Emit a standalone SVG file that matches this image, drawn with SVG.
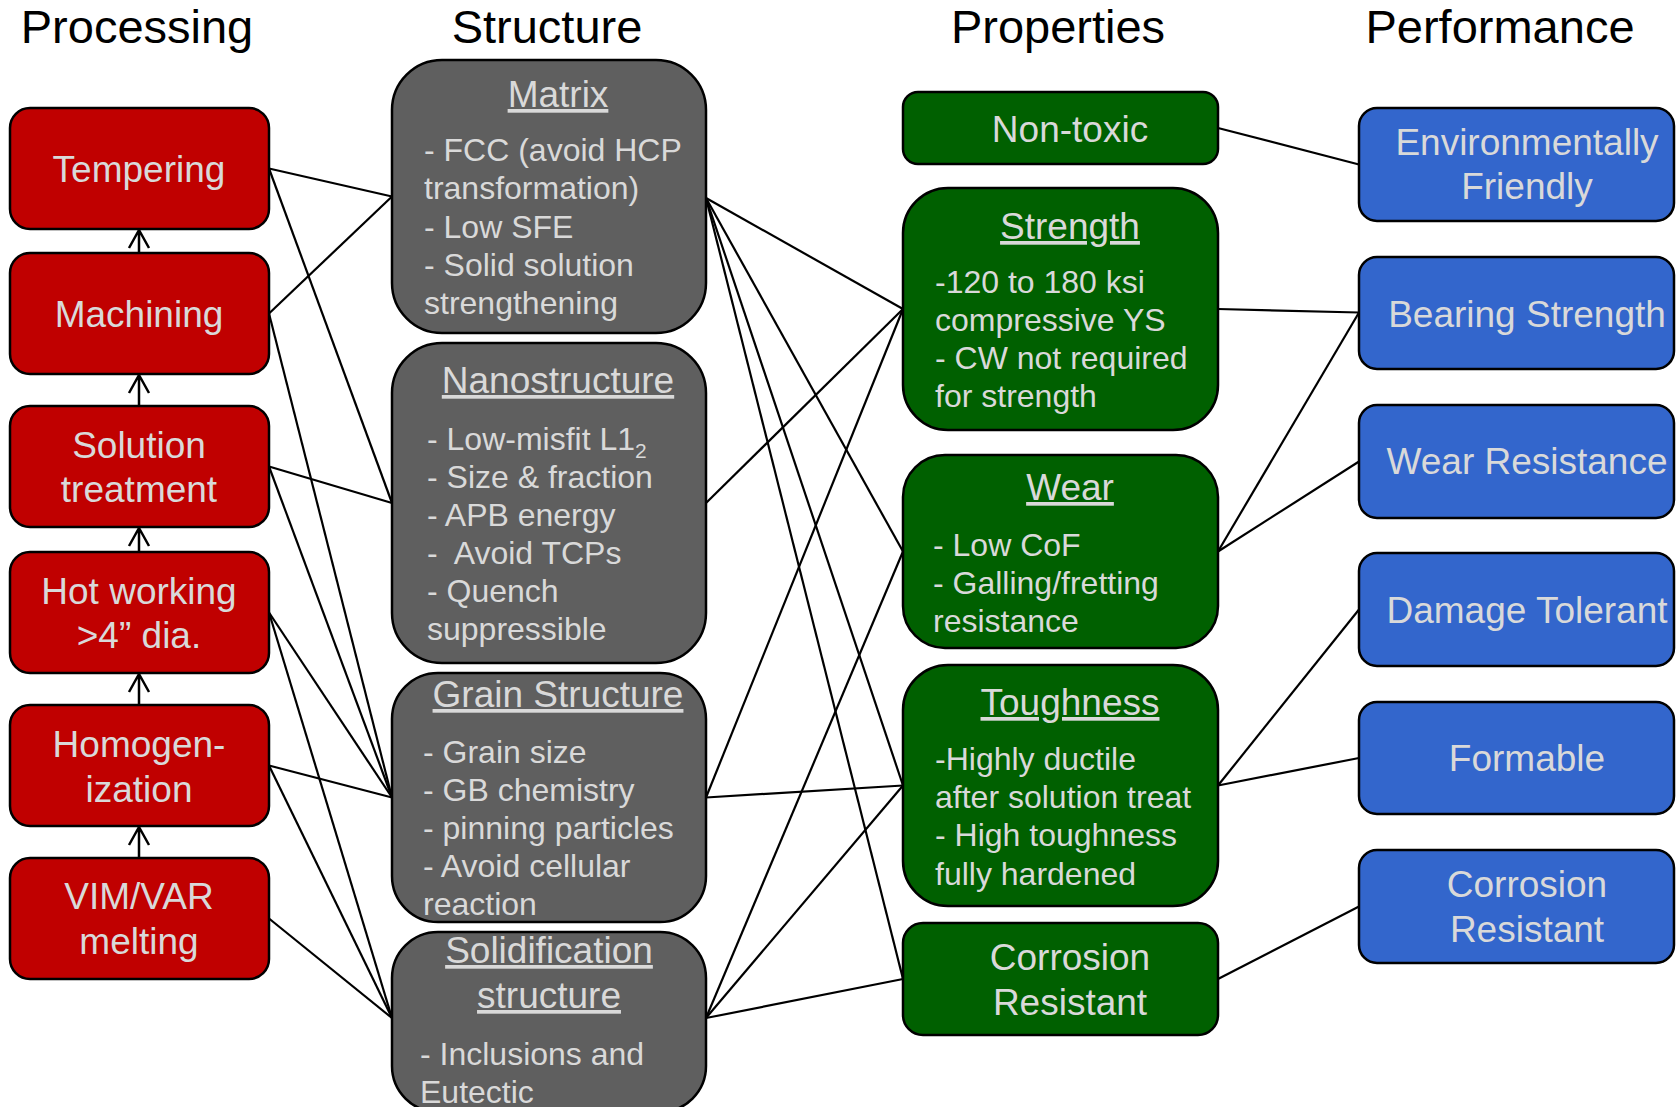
<svg xmlns="http://www.w3.org/2000/svg" width="1680" height="1107" viewBox="0 0 1680 1107">
  <style>
    text { font-family: "Liberation Sans", Arial, sans-serif; }
    .hdr { font-size: 47px; fill: #000; text-anchor: middle; }
    .lbl { font-size: 37px; fill: #d9d9d9; text-anchor: middle; }
    .ttl { font-size: 37px; fill: #d9d9d9; text-anchor: middle; text-decoration: underline; }
    .body { font-size: 32px; fill: #d9d9d9; }
    .proc { fill: #c00000; stroke: #000; stroke-width: 2.5; }
    .struct { fill: #5f5f5f; stroke: #000; stroke-width: 2.5; }
    .prop { fill: #006000; stroke: #000; stroke-width: 2.5; }
    .perf { fill: #3366cc; stroke: #000; stroke-width: 2.5; }
    .link { stroke: #000; stroke-width: 2.2; fill: none; }
    .flow { stroke: #000; stroke-width: 2.5; fill: none; }
  </style>
  <rect width="1680" height="1107" fill="#fff"/>

  <!-- column headings -->
  <g id="headings">
    <text class="hdr" x="137" y="43">Processing</text>
    <text class="hdr" x="547" y="43">Structure</text>
    <text class="hdr" x="1058" y="43">Properties</text>
    <text class="hdr" x="1500" y="43">Performance</text>
  </g>

  <!-- links between columns -->
  <g id="connectors">
    <!-- processing to structure -->
    <line class="link" x1="269" y1="168.5" x2="392" y2="196.5"/>
    <line class="link" x1="269" y1="168.5" x2="392" y2="503"/>
    <line class="link" x1="269" y1="313.5" x2="392" y2="196.5"/>
    <line class="link" x1="269" y1="313.5" x2="392" y2="797.5"/>
    <line class="link" x1="269" y1="466.5" x2="392" y2="503"/>
    <line class="link" x1="269" y1="466.5" x2="392" y2="797.5"/>
    <line class="link" x1="269" y1="612.5" x2="392" y2="797.5"/>
    <line class="link" x1="269" y1="612.5" x2="392" y2="1018"/>
    <line class="link" x1="269" y1="765.5" x2="392" y2="797.5"/>
    <line class="link" x1="269" y1="765.5" x2="392" y2="1018"/>
    <line class="link" x1="269" y1="918.5" x2="392" y2="1018"/>
    <!-- structure to properties -->
    <line class="link" x1="706" y1="198" x2="903" y2="309"/>
    <line class="link" x1="706" y1="198" x2="903" y2="551.5"/>
    <line class="link" x1="706" y1="198" x2="903" y2="785.5"/>
    <line class="link" x1="706" y1="198" x2="903" y2="979"/>
    <line class="link" x1="706" y1="503" x2="903" y2="309"/>
    <line class="link" x1="706" y1="797.5" x2="903" y2="309"/>
    <line class="link" x1="706" y1="797.5" x2="903" y2="785.5"/>
    <line class="link" x1="706" y1="1018" x2="903" y2="551.5"/>
    <line class="link" x1="706" y1="1018" x2="903" y2="785.5"/>
    <line class="link" x1="706" y1="1018" x2="903" y2="979"/>
    <!-- properties to performance -->
    <line class="link" x1="1218" y1="128" x2="1359" y2="164.5"/>
    <line class="link" x1="1218" y1="309" x2="1359" y2="312.5"/>
    <line class="link" x1="1218" y1="551.5" x2="1359" y2="312.5"/>
    <line class="link" x1="1218" y1="551.5" x2="1359" y2="461.5"/>
    <line class="link" x1="1218" y1="785.5" x2="1359" y2="609.5"/>
    <line class="link" x1="1218" y1="785.5" x2="1359" y2="758"/>
    <line class="link" x1="1218" y1="979" x2="1359" y2="906.5"/>
    <!-- processing sequence arrows -->
    <path class="flow" d="M139,253 V230 M129,248 L139,230 L149,248"/>
    <path class="flow" d="M139,406 V375 M129,393 L139,375 L149,393"/>
    <path class="flow" d="M139,552 V528 M129,546 L139,528 L149,546"/>
    <path class="flow" d="M139,705 V674 M129,692 L139,674 L149,692"/>
    <path class="flow" d="M139,858 V827 M129,845 L139,827 L149,845"/>
  </g>

  <!-- processing column -->
  <g id="tempering">
    <rect class="proc" x="10" y="108" width="259" height="121" rx="20"/>
    <text class="lbl" x="139" y="182">Tempering</text>
  </g>
  <g id="machining">
    <rect class="proc" x="10" y="253" width="259" height="121" rx="20"/>
    <text class="lbl" x="139" y="327">Machining</text>
  </g>
  <g id="solution-treatment">
    <rect class="proc" x="10" y="406" width="259" height="121" rx="20"/>
    <text class="lbl" x="139" y="458">Solution</text>
    <text class="lbl" x="139" y="502">treatment</text>
  </g>
  <g id="hot-working">
    <rect class="proc" x="10" y="552" width="259" height="121" rx="20"/>
    <text class="lbl" x="139" y="604">Hot working</text>
    <text class="lbl" x="139" y="648">&gt;4” dia.</text>
  </g>
  <g id="homogenization">
    <rect class="proc" x="10" y="705" width="259" height="121" rx="20"/>
    <text class="lbl" x="139" y="757">Homogen-</text>
    <text class="lbl" x="139" y="802">ization</text>
  </g>
  <g id="vim-var">
    <rect class="proc" x="10" y="858" width="259" height="121" rx="20"/>
    <text class="lbl" x="139" y="909">VIM/VAR</text>
    <text class="lbl" x="139" y="954">melting</text>
  </g>

  <!-- structure column -->
  <g id="matrix">
    <rect class="struct" x="392" y="60" width="314" height="273" rx="50"/>
    <text class="ttl" x="558" y="107">Matrix</text>
    <text class="body" x="424" y="161">- FCC (avoid HCP</text>
    <text class="body" x="424" y="199">transformation)</text>
    <text class="body" x="424" y="238">- Low SFE</text>
    <text class="body" x="424" y="276">- Solid solution</text>
    <text class="body" x="424" y="314">strengthening</text>
  </g>
  <g id="nanostructure">
    <rect class="struct" x="392" y="343" width="314" height="320" rx="50"/>
    <text class="ttl" x="558" y="393">Nanostructure</text>
    <text class="body" x="427" y="450">- Low-misfit L1<tspan font-size="21" dy="8">2</tspan></text>
    <text class="body" x="427" y="488">- Size &amp; fraction</text>
    <text class="body" x="427" y="526">- APB energy</text>
    <text class="body" x="427" y="564" xml:space="preserve">-  Avoid TCPs</text>
    <text class="body" x="427" y="602">- Quench</text>
    <text class="body" x="427" y="640">suppressible</text>
  </g>
  <g id="grain-structure">
    <rect class="struct" x="392" y="673" width="314" height="249" rx="46"/>
    <text class="ttl" x="558" y="707">Grain Structure</text>
    <text class="body" x="423" y="763">- Grain size</text>
    <text class="body" x="423" y="801">- GB chemistry</text>
    <text class="body" x="423" y="839">- pinning particles</text>
    <text class="body" x="423" y="877">- Avoid cellular</text>
    <text class="body" x="423" y="915">reaction</text>
  </g>
  <g id="solidification-structure">
    <rect class="struct" x="392" y="932" width="314" height="180" rx="46"/>
    <text class="ttl" x="549" y="963">Solidification</text>
    <text class="ttl" x="549" y="1008">structure</text>
    <text class="body" x="420" y="1065">- Inclusions and</text>
    <text class="body" x="420" y="1103">Eutectic</text>
  </g>

  <!-- properties column -->
  <g id="non-toxic">
    <rect class="prop" x="903" y="92" width="315" height="72" rx="15"/>
    <text class="lbl" x="1070" y="142">Non-toxic</text>
  </g>
  <g id="strength">
    <rect class="prop" x="903" y="188" width="315" height="242" rx="45"/>
    <text class="ttl" x="1070" y="239">Strength</text>
    <text class="body" x="935" y="293">-120 to 180 ksi</text>
    <text class="body" x="935" y="331">compressive YS</text>
    <text class="body" x="935" y="369">- CW not required</text>
    <text class="body" x="935" y="407">for strength</text>
  </g>
  <g id="wear">
    <rect class="prop" x="903" y="455" width="315" height="193" rx="42"/>
    <text class="ttl" x="1070" y="500">Wear</text>
    <text class="body" x="933" y="556">- Low CoF</text>
    <text class="body" x="933" y="594">- Galling/fretting</text>
    <text class="body" x="933" y="632">resistance</text>
  </g>
  <g id="toughness">
    <rect class="prop" x="903" y="665" width="315" height="241" rx="45"/>
    <text class="ttl" x="1070" y="715">Toughness</text>
    <text class="body" x="935" y="770">-Highly ductile</text>
    <text class="body" x="935" y="808">after solution treat</text>
    <text class="body" x="935" y="846">- High toughness</text>
    <text class="body" x="935" y="885">fully hardened</text>
  </g>
  <g id="corrosion">
    <rect class="prop" x="903" y="923" width="315" height="112" rx="20"/>
    <text class="lbl" x="1070" y="970">Corrosion</text>
    <text class="lbl" x="1070" y="1015">Resistant</text>
  </g>

  <!-- performance column -->
  <g id="environmentally-friendly">
    <rect class="perf" x="1359" y="108" width="315" height="113" rx="18"/>
    <text class="lbl" x="1527" y="155">Environmentally</text>
    <text class="lbl" x="1527" y="199">Friendly</text>
  </g>
  <g id="bearing-strength">
    <rect class="perf" x="1359" y="257" width="315" height="112" rx="18"/>
    <text class="lbl" x="1527" y="327">Bearing Strength</text>
  </g>
  <g id="wear-resistance">
    <rect class="perf" x="1359" y="405" width="315" height="113" rx="18"/>
    <text class="lbl" x="1527" y="474">Wear Resistance</text>
  </g>
  <g id="damage-tolerant">
    <rect class="perf" x="1359" y="553" width="315" height="113" rx="18"/>
    <text class="lbl" x="1527" y="623">Damage Tolerant</text>
  </g>
  <g id="formable">
    <rect class="perf" x="1359" y="702" width="315" height="112" rx="18"/>
    <text class="lbl" x="1527" y="771">Formable</text>
  </g>
  <g id="corrosion-resistant">
    <rect class="perf" x="1359" y="850" width="315" height="113" rx="18"/>
    <text class="lbl" x="1527" y="897">Corrosion</text>
    <text class="lbl" x="1527" y="942">Resistant</text>
  </g>
</svg>
